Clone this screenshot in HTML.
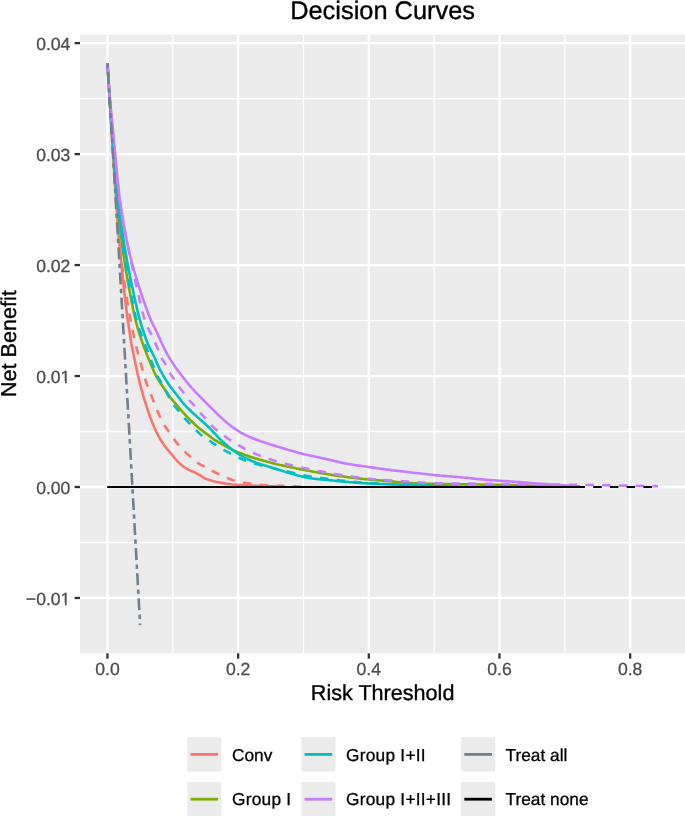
<!DOCTYPE html>
<html>
<head>
<meta charset="utf-8">
<title>Decision Curves</title>
<style>
html, body { margin: 0; padding: 0; background: #ffffff; }
body { width: 685px; height: 816px; overflow: hidden; font-family: "Liberation Sans", sans-serif; }
#chart { width: 685px; height: 816px; will-change: transform; }
svg { display: block; }
</style>
</head>
<body>
<div id="chart">
<svg width="685" height="816" viewBox="0 0 685 816">
<rect x="0" y="0" width="685" height="816" fill="#ffffff"/>
<rect x="80.00" y="34.60" width="605.00" height="618.70" fill="#EBEBEB"/>
<g stroke="#ffffff" stroke-width="1.3">
<line x1="172.79" y1="34.60" x2="172.79" y2="653.30"/>
<line x1="303.47" y1="34.60" x2="303.47" y2="653.30"/>
<line x1="434.15" y1="34.60" x2="434.15" y2="653.30"/>
<line x1="564.83" y1="34.60" x2="564.83" y2="653.30"/>
<line x1="80.00" y1="542.49" x2="685.00" y2="542.49"/>
<line x1="80.00" y1="431.51" x2="685.00" y2="431.51"/>
<line x1="80.00" y1="320.55" x2="685.00" y2="320.55"/>
<line x1="80.00" y1="209.57" x2="685.00" y2="209.57"/>
<line x1="80.00" y1="98.60" x2="685.00" y2="98.60"/>
</g>
<g stroke="#ffffff" stroke-width="2.3">
<line x1="107.45" y1="34.60" x2="107.45" y2="653.30"/>
<line x1="238.13" y1="34.60" x2="238.13" y2="653.30"/>
<line x1="368.81" y1="34.60" x2="368.81" y2="653.30"/>
<line x1="499.49" y1="34.60" x2="499.49" y2="653.30"/>
<line x1="630.17" y1="34.60" x2="630.17" y2="653.30"/>
<line x1="80.00" y1="597.97" x2="685.00" y2="597.97"/>
<line x1="80.00" y1="487.00" x2="685.00" y2="487.00"/>
<line x1="80.00" y1="376.03" x2="685.00" y2="376.03"/>
<line x1="80.00" y1="265.06" x2="685.00" y2="265.06"/>
<line x1="80.00" y1="154.09" x2="685.00" y2="154.09"/>
<line x1="80.00" y1="43.12" x2="685.00" y2="43.12"/>
</g>
<g fill="none" stroke-width="2.60" stroke-linejoin="round" stroke-linecap="butt">
<path d="M107.45,63.32 L107.46,63.43 L107.48,63.75 L107.51,64.25 L107.55,64.91 L107.60,65.71 L107.65,66.61 L107.71,67.61 L107.78,68.66 L107.84,69.76 L107.91,70.87 L107.98,71.98 L108.05,73.05 L108.11,74.07 L108.16,75.00 L108.23,76.01 L108.29,77.03 L108.35,78.05 L108.41,79.09 L108.48,80.13 L108.54,81.18 L108.60,82.25 L108.67,83.32 L108.74,84.41 L108.80,85.50 L108.87,86.61 L108.94,87.73 L109.01,88.86 L109.08,90.00 L109.16,91.32 L109.25,92.65 L109.33,93.97 L109.41,95.30 L109.50,96.65 L109.58,98.01 L109.67,99.39 L109.76,100.80 L109.85,102.23 L109.95,103.70 L110.04,105.21 L110.14,106.76 L110.25,108.35 L110.35,110.00 L110.51,112.45 L110.67,115.04 L110.84,117.77 L111.03,120.60 L111.21,123.51 L111.40,126.48 L111.59,129.50 L111.79,132.54 L111.98,135.58 L112.17,138.59 L112.36,141.56 L112.55,144.47 L112.73,147.29 L112.90,150.00 L113.04,152.28 L113.19,154.52 L113.33,156.72 L113.46,158.90 L113.60,161.06 L113.73,163.19 L113.87,165.31 L114.00,167.41 L114.13,169.51 L114.26,171.60 L114.40,173.69 L114.53,175.78 L114.66,177.89 L114.80,180.00 L114.93,182.06 L115.06,184.07 L115.18,186.06 L115.31,188.03 L115.43,189.99 L115.55,191.95 L115.68,193.92 L115.80,195.91 L115.94,197.93 L116.07,199.99 L116.22,202.10 L116.37,204.26 L116.53,206.49 L116.70,208.80 L116.94,212.00 L117.19,215.32 L117.46,218.76 L117.73,222.29 L118.02,225.90 L118.32,229.58 L118.62,233.32 L118.94,237.10 L119.26,240.92 L119.59,244.75 L119.94,248.59 L120.28,252.42 L120.64,256.23 L121.00,260.00 L121.40,264.08 L121.83,268.34 L122.28,272.76 L122.75,277.26 L123.23,281.82 L123.72,286.37 L124.21,290.87 L124.70,295.28 L125.18,299.54 L125.65,303.61 L126.10,307.44 L126.53,310.98 L126.93,314.18 L127.30,317.00 L127.46,318.19 L127.62,319.29 L127.77,320.31 L127.92,321.27 L128.06,322.18 L128.20,323.04 L128.34,323.87 L128.47,324.67 L128.61,325.47 L128.74,326.27 L128.88,327.08 L129.02,327.92 L129.16,328.79 L129.30,329.70 L129.45,330.72 L129.60,331.74 L129.75,332.78 L129.90,333.82 L130.05,334.87 L130.20,335.93 L130.35,336.99 L130.50,338.05 L130.65,339.11 L130.81,340.17 L130.98,341.23 L131.14,342.29 L131.32,343.35 L131.50,344.40 L131.69,345.45 L131.88,346.50 L132.09,347.54 L132.29,348.58 L132.50,349.62 L132.71,350.66 L132.93,351.70 L133.15,352.75 L133.37,353.79 L133.60,354.84 L133.82,355.90 L134.05,356.96 L134.27,358.03 L134.50,359.10 L134.74,360.25 L134.98,361.40 L135.22,362.57 L135.46,363.74 L135.71,364.92 L135.95,366.11 L136.20,367.29 L136.45,368.48 L136.70,369.66 L136.96,370.84 L137.21,372.02 L137.47,373.19 L137.74,374.35 L138.00,375.50 L138.26,376.60 L138.52,377.70 L138.78,378.79 L139.04,379.87 L139.30,380.96 L139.57,382.04 L139.83,383.11 L140.11,384.19 L140.38,385.26 L140.66,386.33 L140.94,387.40 L141.22,388.46 L141.51,389.53 L141.80,390.60 L142.09,391.66 L142.39,392.72 L142.69,393.77 L142.99,394.82 L143.30,395.88 L143.61,396.93 L143.92,397.97 L144.24,399.02 L144.55,400.07 L144.88,401.12 L145.20,402.16 L145.53,403.21 L145.86,404.25 L146.20,405.30 L146.55,406.37 L146.90,407.45 L147.27,408.56 L147.64,409.67 L148.02,410.78 L148.40,411.90 L148.78,413.00 L149.16,414.09 L149.53,415.16 L149.90,416.20 L150.27,417.22 L150.62,418.19 L150.97,419.12 L151.30,420.00 L151.52,420.58 L151.74,421.15 L151.96,421.69 L152.17,422.22 L152.38,422.74 L152.59,423.24 L152.80,423.73 L153.00,424.21 L153.20,424.68 L153.40,425.15 L153.60,425.61 L153.80,426.07 L154.00,426.54 L154.20,427.00 L154.37,427.41 L154.54,427.80 L154.71,428.19 L154.87,428.57 L155.03,428.94 L155.19,429.32 L155.35,429.69 L155.51,430.06 L155.67,430.43 L155.84,430.81 L156.02,431.19 L156.21,431.59 L156.40,431.99 L156.60,432.40 L156.86,432.93 L157.14,433.47 L157.42,434.03 L157.72,434.60 L158.02,435.18 L158.33,435.76 L158.65,436.35 L158.97,436.94 L159.30,437.53 L159.64,438.11 L159.97,438.70 L160.31,439.27 L160.66,439.84 L161.00,440.40 L161.34,440.95 L161.69,441.49 L162.04,442.02 L162.40,442.55 L162.76,443.08 L163.12,443.60 L163.49,444.13 L163.86,444.65 L164.24,445.17 L164.62,445.69 L165.01,446.22 L165.40,446.74 L165.80,447.27 L166.20,447.80 L166.65,448.38 L167.11,448.97 L167.59,449.56 L168.07,450.16 L168.57,450.76 L169.07,451.36 L169.57,451.96 L170.07,452.55 L170.57,453.14 L171.06,453.72 L171.54,454.29 L172.01,454.84 L172.46,455.38 L172.90,455.90 L173.23,456.30 L173.56,456.70 L173.87,457.08 L174.17,457.46 L174.47,457.83 L174.77,458.19 L175.06,458.55 L175.35,458.91 L175.65,459.26 L175.94,459.61 L176.25,459.96 L176.56,460.30 L176.87,460.65 L177.20,461.00 L177.55,461.36 L177.90,461.72 L178.25,462.08 L178.61,462.44 L178.97,462.79 L179.34,463.14 L179.71,463.49 L180.08,463.84 L180.46,464.18 L180.84,464.52 L181.23,464.85 L181.61,465.17 L182.01,465.49 L182.40,465.80 L182.79,466.10 L183.19,466.39 L183.59,466.68 L183.99,466.96 L184.40,467.23 L184.81,467.50 L185.23,467.76 L185.65,468.02 L186.07,468.28 L186.49,468.53 L186.91,468.78 L187.34,469.02 L187.77,469.26 L188.20,469.50 L188.64,469.73 L189.08,469.96 L189.53,470.17 L189.98,470.39 L190.43,470.59 L190.89,470.80 L191.35,471.00 L191.81,471.20 L192.27,471.39 L192.72,471.59 L193.17,471.79 L193.62,471.99 L194.06,472.19 L194.50,472.40 L194.91,472.60 L195.31,472.79 L195.72,472.99 L196.12,473.18 L196.52,473.38 L196.92,473.58 L197.32,473.77 L197.71,473.97 L198.10,474.17 L198.49,474.37 L198.87,474.57 L199.25,474.78 L199.63,474.99 L200.00,475.20 L200.34,475.40 L200.67,475.62 L200.99,475.83 L201.30,476.05 L201.61,476.27 L201.91,476.49 L202.22,476.72 L202.53,476.94 L202.84,477.16 L203.17,477.38 L203.50,477.59 L203.85,477.80 L204.21,478.00 L204.60,478.20 L205.13,478.45 L205.68,478.69 L206.25,478.93 L206.85,479.16 L207.46,479.39 L208.09,479.61 L208.73,479.82 L209.38,480.03 L210.04,480.24 L210.71,480.44 L211.38,480.64 L212.05,480.83 L212.73,481.02 L213.40,481.20 L214.15,481.39 L214.91,481.58 L215.69,481.77 L216.48,481.94 L217.27,482.11 L218.08,482.28 L218.89,482.44 L219.69,482.59 L220.50,482.74 L221.30,482.88 L222.09,483.02 L222.88,483.15 L223.65,483.28 L224.40,483.40 L225.05,483.50 L225.69,483.60 L226.32,483.70 L226.94,483.78 L227.56,483.87 L228.17,483.95 L228.78,484.02 L229.38,484.10 L230.00,484.17 L230.62,484.24 L231.24,484.30 L231.88,484.37 L232.53,484.43 L233.20,484.50 L233.98,484.57 L234.74,484.64 L235.51,484.71 L236.28,484.77 L237.05,484.83 L237.84,484.88 L238.64,484.94 L239.46,484.99 L240.30,485.04 L241.17,485.09 L242.07,485.14 L243.00,485.19 L243.98,485.25 L245.00,485.30 L246.91,485.39 L249.20,485.49 L251.79,485.59 L254.59,485.70 L257.53,485.80 L260.51,485.90 L263.46,486.00 L266.28,486.10 L268.90,486.18 L271.23,486.25 L273.19,486.31 L274.70,486.36 L275.66,486.39 L276.00,486.40" stroke="#F8766D"/>
<path d="M107.45,63.32 L107.46,63.43 L107.48,63.75 L107.51,64.25 L107.55,64.91 L107.60,65.71 L107.65,66.61 L107.71,67.61 L107.78,68.66 L107.84,69.76 L107.91,70.87 L107.98,71.98 L108.05,73.05 L108.11,74.07 L108.16,75.00 L108.23,76.01 L108.29,77.03 L108.35,78.05 L108.41,79.09 L108.48,80.13 L108.54,81.18 L108.60,82.25 L108.67,83.32 L108.74,84.41 L108.80,85.50 L108.87,86.61 L108.94,87.73 L109.01,88.86 L109.08,90.00 L109.16,91.32 L109.25,92.65 L109.33,93.97 L109.41,95.30 L109.50,96.65 L109.58,98.01 L109.67,99.39 L109.76,100.80 L109.85,102.23 L109.95,103.70 L110.04,105.21 L110.14,106.76 L110.25,108.35 L110.35,110.00 L110.51,112.45 L110.67,115.04 L110.84,117.77 L111.03,120.60 L111.21,123.51 L111.40,126.48 L111.59,129.50 L111.79,132.54 L111.98,135.58 L112.17,138.59 L112.36,141.56 L112.55,144.47 L112.73,147.29 L112.90,150.00 L113.04,152.28 L113.19,154.52 L113.32,156.72 L113.46,158.90 L113.59,161.06 L113.73,163.19 L113.86,165.31 L113.99,167.41 L114.12,169.51 L114.26,171.60 L114.39,173.69 L114.52,175.78 L114.66,177.89 L114.80,180.00 L114.94,182.06 L115.07,184.07 L115.20,186.06 L115.33,188.03 L115.46,189.99 L115.59,191.95 L115.72,193.92 L115.85,195.91 L115.99,197.93 L116.14,199.99 L116.29,202.10 L116.45,204.26 L116.62,206.49 L116.80,208.80 L117.05,212.00 L117.30,215.32 L117.56,218.75 L117.83,222.28 L118.10,225.89 L118.39,229.56 L118.69,233.30 L119.00,237.08 L119.33,240.90 L119.68,244.73 L120.05,248.57 L120.44,252.40 L120.86,256.22 L121.30,260.00 L121.81,264.12 L122.38,268.42 L122.99,272.86 L123.64,277.38 L124.32,281.95 L125.01,286.52 L125.72,291.05 L126.42,295.50 L127.12,299.82 L127.80,303.97 L128.46,307.91 L129.09,311.59 L129.67,314.96 L130.20,318.00 L130.46,319.45 L130.71,320.81 L130.94,322.10 L131.17,323.31 L131.40,324.46 L131.61,325.57 L131.83,326.63 L132.04,327.68 L132.26,328.70 L132.47,329.73 L132.69,330.76 L132.92,331.81 L133.16,332.88 L133.40,334.00 L133.65,335.14 L133.91,336.29 L134.17,337.43 L134.43,338.58 L134.69,339.72 L134.96,340.86 L135.23,342.01 L135.51,343.15 L135.78,344.29 L136.06,345.43 L136.34,346.58 L136.63,347.72 L136.91,348.86 L137.20,350.00 L137.49,351.14 L137.79,352.29 L138.08,353.43 L138.38,354.57 L138.68,355.71 L138.99,356.85 L139.29,357.99 L139.60,359.13 L139.91,360.27 L140.23,361.42 L140.54,362.56 L140.86,363.70 L141.18,364.85 L141.50,366.00 L141.83,367.17 L142.15,368.35 L142.48,369.53 L142.80,370.72 L143.13,371.90 L143.46,373.09 L143.79,374.27 L144.13,375.46 L144.47,376.64 L144.82,377.82 L145.17,379.00 L145.54,380.17 L145.91,381.34 L146.30,382.50 L146.69,383.65 L147.10,384.79 L147.52,385.93 L147.94,387.06 L148.37,388.19 L148.81,389.32 L149.25,390.44 L149.70,391.57 L150.15,392.69 L150.60,393.81 L151.06,394.93 L151.51,396.05 L151.95,397.18 L152.40,398.30 L152.84,399.43 L153.29,400.57 L153.73,401.73 L154.18,402.88 L154.62,404.04 L155.07,405.19 L155.52,406.35 L155.97,407.49 L156.42,408.62 L156.87,409.74 L157.33,410.84 L157.78,411.92 L158.24,412.97 L158.70,414.00 L159.09,414.86 L159.49,415.71 L159.88,416.55 L160.28,417.39 L160.68,418.21 L161.08,419.02 L161.47,419.81 L161.88,420.60 L162.28,421.37 L162.68,422.13 L163.08,422.87 L163.49,423.59 L163.89,424.31 L164.30,425.00 L164.64,425.56 L164.98,426.10 L165.32,426.63 L165.67,427.15 L166.01,427.65 L166.36,428.14 L166.71,428.63 L167.05,429.11 L167.40,429.59 L167.74,430.07 L168.09,430.55 L168.43,431.03 L168.76,431.51 L169.10,432.00 L169.42,432.48 L169.73,432.95 L170.04,433.43 L170.35,433.90 L170.66,434.37 L170.96,434.84 L171.27,435.31 L171.57,435.78 L171.88,436.25 L172.19,436.72 L172.51,437.19 L172.83,437.66 L173.16,438.13 L173.50,438.60 L173.87,439.10 L174.24,439.61 L174.61,440.11 L175.00,440.62 L175.39,441.13 L175.78,441.64 L176.17,442.15 L176.57,442.66 L176.97,443.16 L177.38,443.66 L177.78,444.16 L178.19,444.64 L178.59,445.13 L179.00,445.60 L179.39,446.05 L179.78,446.49 L180.17,446.92 L180.55,447.35 L180.95,447.77 L181.34,448.20 L181.73,448.61 L182.13,449.03 L182.53,449.44 L182.94,449.85 L183.35,450.27 L183.76,450.68 L184.18,451.09 L184.60,451.50 L185.05,451.93 L185.51,452.36 L185.97,452.79 L186.44,453.22 L186.92,453.64 L187.40,454.07 L187.88,454.49 L188.36,454.91 L188.84,455.33 L189.32,455.75 L189.80,456.16 L190.27,456.58 L190.74,456.99 L191.20,457.40 L191.62,457.78 L192.04,458.17 L192.44,458.56 L192.84,458.95 L193.24,459.33 L193.63,459.72 L194.03,460.10 L194.43,460.47 L194.83,460.85 L195.24,461.21 L195.66,461.57 L196.10,461.92 L196.54,462.27 L197.00,462.60 L197.51,462.94 L198.04,463.28 L198.59,463.60 L199.15,463.91 L199.72,464.21 L200.30,464.51 L200.89,464.80 L201.48,465.09 L202.06,465.37 L202.65,465.65 L203.23,465.94 L203.80,466.22 L204.35,466.51 L204.90,466.80 L205.39,467.07 L205.87,467.34 L206.34,467.60 L206.81,467.87 L207.27,468.13 L207.73,468.39 L208.19,468.66 L208.65,468.92 L209.11,469.18 L209.58,469.44 L210.05,469.71 L210.52,469.97 L211.01,470.23 L211.50,470.50 L212.05,470.79 L212.61,471.09 L213.18,471.39 L213.76,471.69 L214.34,471.99 L214.92,472.29 L215.51,472.59 L216.10,472.88 L216.69,473.18 L217.28,473.47 L217.87,473.76 L218.45,474.05 L219.03,474.33 L219.60,474.60 L220.14,474.85 L220.67,475.10 L221.19,475.35 L221.72,475.60 L222.24,475.84 L222.76,476.08 L223.29,476.31 L223.81,476.55 L224.33,476.78 L224.86,477.01 L225.39,477.23 L225.92,477.46 L226.46,477.68 L227.00,477.90 L227.56,478.13 L228.13,478.35 L228.70,478.57 L229.27,478.80 L229.85,479.02 L230.43,479.23 L231.01,479.45 L231.59,479.66 L232.18,479.86 L232.76,480.06 L233.35,480.26 L233.93,480.45 L234.52,480.63 L235.10,480.80 L235.67,480.96 L236.24,481.11 L236.80,481.26 L237.36,481.40 L237.92,481.53 L238.48,481.66 L239.04,481.79 L239.61,481.91 L240.18,482.03 L240.77,482.14 L241.36,482.26 L241.96,482.37 L242.57,482.48 L243.20,482.60 L243.97,482.74 L244.75,482.87 L245.55,483.01 L246.36,483.14 L247.19,483.27 L248.02,483.40 L248.87,483.52 L249.72,483.65 L250.58,483.76 L251.46,483.88 L252.33,483.99 L253.22,484.10 L254.11,484.20 L255.00,484.30 L256.01,484.41 L257.05,484.51 L258.09,484.60 L259.15,484.69 L260.22,484.78 L261.30,484.86 L262.38,484.93 L263.47,485.01 L264.57,485.08 L265.66,485.15 L266.75,485.21 L267.84,485.28 L268.92,485.34 L270.00,485.40 L271.07,485.46 L272.14,485.51 L273.20,485.56 L274.27,485.61 L275.34,485.65 L276.40,485.69 L277.47,485.73 L278.54,485.77 L279.61,485.81 L280.68,485.84 L281.75,485.88 L282.83,485.92 L283.91,485.96 L285.00,486.00 L286.20,486.05 L287.54,486.10 L288.97,486.15 L290.47,486.21 L291.99,486.26 L293.50,486.32 L294.97,486.38 L296.35,486.43 L297.63,486.48 L298.75,486.52 L299.68,486.55 L300.39,486.58 L300.84,486.59 L301.00,486.60" stroke="#F8766D" stroke-dasharray="8.432 8.332" stroke-dashoffset="0.215"/>
<path d="M107.45,63.32 L107.46,63.43 L107.48,63.75 L107.51,64.25 L107.55,64.91 L107.60,65.71 L107.65,66.61 L107.71,67.61 L107.78,68.66 L107.84,69.76 L107.91,70.87 L107.98,71.98 L108.05,73.05 L108.11,74.07 L108.16,75.00 L108.23,76.01 L108.29,77.03 L108.35,78.05 L108.41,79.09 L108.47,80.13 L108.54,81.18 L108.60,82.25 L108.67,83.32 L108.73,84.41 L108.80,85.50 L108.87,86.61 L108.94,87.73 L109.01,88.86 L109.08,90.00 L109.16,91.32 L109.25,92.65 L109.33,93.97 L109.42,95.31 L109.51,96.65 L109.60,98.01 L109.69,99.39 L109.78,100.80 L109.88,102.23 L109.97,103.70 L110.08,105.21 L110.18,106.76 L110.29,108.35 L110.40,110.00 L110.57,112.45 L110.75,115.04 L110.93,117.77 L111.13,120.60 L111.33,123.51 L111.54,126.48 L111.75,129.50 L111.96,132.54 L112.18,135.58 L112.39,138.59 L112.60,141.56 L112.81,144.47 L113.01,147.29 L113.20,150.00 L113.36,152.28 L113.52,154.52 L113.67,156.73 L113.82,158.90 L113.97,161.06 L114.12,163.19 L114.27,165.31 L114.42,167.41 L114.57,169.51 L114.73,171.60 L114.89,173.69 L115.05,175.79 L115.22,177.89 L115.40,180.00 L115.58,182.06 L115.75,184.08 L115.93,186.06 L116.11,188.03 L116.29,190.00 L116.48,191.96 L116.67,193.93 L116.86,195.92 L117.06,197.94 L117.27,199.99 L117.49,202.10 L117.71,204.26 L117.95,206.49 L118.20,208.80 L118.54,212.00 L118.90,215.33 L119.26,218.77 L119.64,222.31 L120.03,225.93 L120.44,229.62 L120.86,233.36 L121.29,237.15 L121.74,240.97 L122.22,244.80 L122.71,248.63 L123.22,252.45 L123.75,256.25 L124.30,260.00 L124.92,264.01 L125.58,268.16 L126.29,272.43 L127.02,276.77 L127.79,281.15 L128.57,285.53 L129.36,289.87 L130.15,294.13 L130.94,298.28 L131.72,302.27 L132.49,306.08 L133.22,309.66 L133.93,312.98 L134.60,316.00 L134.96,317.56 L135.31,319.03 L135.64,320.43 L135.98,321.76 L136.30,323.03 L136.63,324.25 L136.95,325.44 L137.27,326.59 L137.59,327.72 L137.92,328.84 L138.25,329.96 L138.59,331.09 L138.94,332.23 L139.30,333.40 L139.64,334.49 L139.99,335.58 L140.33,336.65 L140.68,337.71 L141.04,338.76 L141.40,339.81 L141.76,340.85 L142.13,341.88 L142.49,342.92 L142.87,343.95 L143.25,344.98 L143.63,346.02 L144.01,347.06 L144.40,348.10 L144.80,349.16 L145.21,350.22 L145.62,351.29 L146.04,352.36 L146.46,353.43 L146.89,354.50 L147.32,355.57 L147.75,356.63 L148.18,357.68 L148.61,358.73 L149.04,359.77 L149.46,360.79 L149.88,361.80 L150.30,362.80 L150.67,363.69 L151.04,364.57 L151.41,365.46 L151.77,366.34 L152.14,367.22 L152.50,368.08 L152.87,368.94 L153.23,369.79 L153.59,370.62 L153.95,371.43 L154.32,372.23 L154.68,373.01 L155.04,373.77 L155.40,374.50 L155.69,375.06 L155.97,375.61 L156.25,376.13 L156.52,376.64 L156.80,377.14 L157.07,377.63 L157.35,378.12 L157.63,378.60 L157.91,379.07 L158.20,379.55 L158.49,380.03 L158.79,380.51 L159.09,381.00 L159.40,381.50 L159.74,382.04 L160.09,382.59 L160.45,383.14 L160.81,383.68 L161.18,384.23 L161.56,384.78 L161.93,385.33 L162.31,385.88 L162.70,386.44 L163.08,386.99 L163.46,387.54 L163.84,388.09 L164.22,388.65 L164.60,389.20 L164.98,389.76 L165.35,390.32 L165.73,390.89 L166.10,391.45 L166.47,392.01 L166.84,392.58 L167.21,393.14 L167.59,393.71 L167.97,394.27 L168.36,394.84 L168.75,395.40 L169.16,395.97 L169.57,396.53 L170.00,397.10 L170.48,397.72 L170.97,398.34 L171.48,398.96 L172.00,399.59 L172.53,400.21 L173.06,400.83 L173.60,401.46 L174.15,402.08 L174.69,402.70 L175.24,403.33 L175.79,403.95 L176.33,404.57 L176.87,405.18 L177.40,405.80 L177.92,406.41 L178.44,407.02 L178.96,407.62 L179.48,408.23 L180.00,408.84 L180.51,409.45 L181.03,410.05 L181.55,410.65 L182.07,411.25 L182.59,411.85 L183.12,412.44 L183.64,413.03 L184.17,413.62 L184.70,414.20 L185.22,414.76 L185.74,415.32 L186.26,415.88 L186.79,416.44 L187.32,416.99 L187.84,417.54 L188.37,418.08 L188.90,418.63 L189.43,419.17 L189.96,419.70 L190.50,420.23 L191.03,420.76 L191.57,421.28 L192.10,421.80 L192.62,422.30 L193.13,422.79 L193.65,423.28 L194.16,423.76 L194.68,424.24 L195.20,424.72 L195.72,425.20 L196.24,425.67 L196.76,426.13 L197.29,426.60 L197.81,427.05 L198.34,427.51 L198.87,427.96 L199.40,428.40 L199.92,428.82 L200.44,429.24 L200.97,429.65 L201.49,430.06 L202.02,430.46 L202.55,430.86 L203.08,431.25 L203.62,431.65 L204.15,432.04 L204.68,432.43 L205.21,432.82 L205.74,433.21 L206.27,433.60 L206.80,434.00 L207.32,434.40 L207.85,434.80 L208.38,435.21 L208.90,435.62 L209.43,436.03 L209.96,436.44 L210.49,436.85 L211.01,437.26 L211.53,437.65 L212.05,438.04 L212.57,438.43 L213.09,438.80 L213.59,439.16 L214.10,439.50 L214.54,439.79 L214.97,440.07 L215.41,440.34 L215.84,440.60 L216.27,440.86 L216.70,441.11 L217.13,441.36 L217.55,441.60 L217.97,441.84 L218.39,442.07 L218.80,442.31 L219.21,442.54 L219.61,442.77 L220.00,443.00 L220.33,443.20 L220.65,443.39 L220.96,443.57 L221.26,443.75 L221.55,443.93 L221.85,444.11 L222.14,444.29 L222.44,444.47 L222.74,444.64 L223.05,444.83 L223.36,445.01 L223.69,445.20 L224.04,445.40 L224.40,445.60 L224.93,445.90 L225.50,446.21 L226.08,446.53 L226.69,446.86 L227.32,447.20 L227.96,447.55 L228.62,447.90 L229.28,448.25 L229.94,448.59 L230.61,448.93 L231.27,449.27 L231.92,449.59 L232.57,449.90 L233.20,450.20 L233.78,450.47 L234.36,450.72 L234.94,450.98 L235.52,451.22 L236.09,451.46 L236.66,451.69 L237.24,451.92 L237.81,452.15 L238.39,452.38 L238.97,452.60 L239.54,452.82 L240.13,453.05 L240.71,453.27 L241.30,453.50 L241.91,453.74 L242.52,453.97 L243.13,454.21 L243.74,454.44 L244.35,454.67 L244.97,454.90 L245.58,455.14 L246.20,455.36 L246.83,455.59 L247.45,455.82 L248.08,456.04 L248.72,456.26 L249.36,456.48 L250.00,456.70 L250.68,456.93 L251.36,457.15 L252.04,457.36 L252.72,457.57 L253.41,457.78 L254.09,457.99 L254.79,458.20 L255.49,458.41 L256.20,458.61 L256.93,458.82 L257.67,459.04 L258.43,459.25 L259.20,459.47 L260.00,459.70 L261.05,460.00 L262.13,460.31 L263.24,460.62 L264.37,460.94 L265.53,461.27 L266.70,461.59 L267.90,461.92 L269.11,462.25 L270.34,462.59 L271.59,462.92 L272.85,463.24 L274.12,463.57 L275.41,463.89 L276.70,464.20 L278.24,464.56 L279.82,464.93 L281.43,465.29 L283.06,465.64 L284.72,466.00 L286.40,466.35 L288.09,466.71 L289.80,467.06 L291.51,467.40 L293.22,467.75 L294.93,468.09 L296.63,468.43 L298.32,468.77 L300.00,469.10 L301.67,469.43 L303.34,469.76 L305.01,470.09 L306.68,470.42 L308.35,470.74 L310.02,471.07 L311.69,471.39 L313.36,471.70 L315.03,472.01 L316.71,472.32 L318.38,472.63 L320.05,472.92 L321.73,473.21 L323.40,473.50 L325.07,473.78 L326.74,474.05 L328.41,474.32 L330.08,474.59 L331.75,474.85 L333.42,475.11 L335.09,475.36 L336.76,475.61 L338.44,475.85 L340.11,476.09 L341.78,476.33 L343.45,476.55 L345.13,476.78 L346.80,477.00 L348.47,477.22 L350.16,477.43 L351.85,477.63 L353.54,477.83 L355.23,478.03 L356.93,478.22 L358.62,478.41 L360.30,478.60 L361.98,478.77 L363.65,478.95 L365.31,479.12 L366.96,479.28 L368.59,479.44 L370.20,479.60 L371.67,479.74 L373.15,479.87 L374.62,479.99 L376.09,480.11 L377.55,480.22 L379.00,480.33 L380.44,480.43 L381.87,480.54 L383.28,480.64 L384.67,480.75 L386.04,480.85 L387.39,480.97 L388.71,481.08 L390.00,481.20 L391.03,481.30 L392.00,481.41 L392.95,481.52 L393.86,481.63 L394.76,481.75 L395.64,481.86 L396.52,481.97 L397.41,482.09 L398.32,482.20 L399.25,482.31 L400.22,482.41 L401.22,482.51 L402.28,482.61 L403.40,482.70 L405.16,482.83 L406.99,482.94 L408.88,483.05 L410.84,483.15 L412.87,483.24 L414.95,483.33 L417.10,483.41 L419.30,483.48 L421.56,483.56 L423.88,483.63 L426.26,483.70 L428.69,483.76 L431.17,483.83 L433.70,483.90 L437.55,483.99 L441.69,484.08 L446.07,484.16 L450.65,484.23 L455.37,484.29 L460.19,484.35 L465.07,484.41 L469.96,484.46 L474.81,484.51 L479.57,484.57 L484.19,484.62 L488.64,484.68 L492.86,484.74 L496.80,484.80 L499.51,484.85 L502.16,484.89 L504.74,484.94 L507.25,484.98 L509.72,485.03 L512.13,485.07 L514.49,485.12 L516.80,485.17 L519.08,485.22 L521.32,485.27 L523.53,485.32 L525.71,485.38 L527.86,485.44 L530.00,485.50 L531.81,485.56 L533.76,485.63 L535.81,485.71 L537.90,485.79 L539.99,485.87 L542.05,485.96 L544.03,486.04 L545.89,486.12 L547.57,486.20 L549.05,486.27 L550.28,486.32 L551.21,486.36 L551.79,486.39 L552.00,486.40" stroke="#7CAE00"/>
<path d="M107.45,63.32 L107.46,63.43 L107.48,63.75 L107.51,64.25 L107.55,64.91 L107.60,65.71 L107.65,66.61 L107.71,67.61 L107.78,68.66 L107.84,69.76 L107.91,70.87 L107.98,71.98 L108.05,73.05 L108.11,74.07 L108.16,75.00 L108.23,76.01 L108.29,77.03 L108.35,78.05 L108.41,79.09 L108.47,80.13 L108.54,81.18 L108.60,82.25 L108.66,83.32 L108.73,84.41 L108.80,85.50 L108.86,86.61 L108.93,87.73 L109.01,88.86 L109.08,90.00 L109.17,91.32 L109.25,92.65 L109.34,93.97 L109.43,95.31 L109.52,96.65 L109.61,98.01 L109.71,99.39 L109.80,100.80 L109.90,102.23 L110.01,103.70 L110.11,105.21 L110.22,106.76 L110.33,108.35 L110.45,110.00 L110.62,112.45 L110.81,115.04 L111.01,117.77 L111.21,120.60 L111.42,123.51 L111.63,126.48 L111.86,129.50 L112.08,132.54 L112.30,135.58 L112.53,138.59 L112.75,141.56 L112.97,144.47 L113.19,147.29 L113.40,150.00 L113.58,152.28 L113.75,154.52 L113.93,156.73 L114.10,158.91 L114.27,161.06 L114.43,163.19 L114.61,165.31 L114.78,167.42 L114.95,169.51 L115.13,171.60 L115.31,173.69 L115.50,175.79 L115.70,177.89 L115.90,180.00 L116.10,182.06 L116.30,184.08 L116.50,186.07 L116.69,188.04 L116.90,190.00 L117.10,191.96 L117.31,193.93 L117.53,195.92 L117.76,197.94 L118.00,200.00 L118.25,202.10 L118.52,204.26 L118.80,206.49 L119.10,208.80 L119.52,212.00 L119.97,215.33 L120.44,218.77 L120.93,222.31 L121.45,225.93 L121.98,229.62 L122.53,233.37 L123.11,237.15 L123.70,240.97 L124.30,244.80 L124.93,248.63 L125.57,252.45 L126.23,256.25 L126.90,260.00 L127.64,264.02 L128.44,268.22 L129.29,272.54 L130.17,276.95 L131.07,281.40 L131.99,285.85 L132.92,290.24 L133.85,294.55 L134.76,298.72 L135.65,302.71 L136.51,306.48 L137.33,309.98 L138.09,313.17 L138.80,316.00 L139.13,317.27 L139.44,318.45 L139.74,319.56 L140.04,320.60 L140.32,321.58 L140.60,322.52 L140.87,323.42 L141.15,324.30 L141.42,325.17 L141.70,326.04 L141.99,326.91 L142.28,327.81 L142.58,328.73 L142.90,329.70 L143.24,330.74 L143.58,331.79 L143.92,332.84 L144.27,333.90 L144.62,334.96 L144.98,336.02 L145.34,337.08 L145.71,338.14 L146.09,339.20 L146.47,340.25 L146.86,341.30 L147.26,342.34 L147.68,343.38 L148.10,344.40 L148.53,345.40 L148.99,346.40 L149.46,347.40 L149.94,348.40 L150.44,349.39 L150.94,350.38 L151.45,351.36 L151.95,352.33 L152.45,353.30 L152.95,354.26 L153.44,355.21 L153.91,356.15 L154.36,357.08 L154.80,358.00 L155.16,358.79 L155.51,359.57 L155.85,360.35 L156.17,361.12 L156.49,361.88 L156.81,362.63 L157.12,363.38 L157.43,364.13 L157.74,364.86 L158.06,365.60 L158.38,366.33 L158.71,367.06 L159.05,367.78 L159.40,368.50 L159.75,369.19 L160.10,369.88 L160.46,370.56 L160.82,371.23 L161.18,371.90 L161.55,372.57 L161.92,373.23 L162.30,373.89 L162.67,374.55 L163.06,375.21 L163.44,375.86 L163.82,376.51 L164.21,377.15 L164.60,377.80 L164.98,378.43 L165.37,379.06 L165.75,379.68 L166.13,380.29 L166.52,380.91 L166.91,381.52 L167.30,382.13 L167.70,382.74 L168.10,383.35 L168.51,383.95 L168.92,384.56 L169.34,385.17 L169.77,385.79 L170.20,386.40 L170.67,387.06 L171.15,387.71 L171.64,388.37 L172.14,389.03 L172.64,389.68 L173.15,390.34 L173.66,391.00 L174.18,391.65 L174.70,392.31 L175.22,392.97 L175.74,393.63 L176.26,394.29 L176.78,394.94 L177.30,395.60 L177.82,396.27 L178.34,396.94 L178.86,397.62 L179.38,398.30 L179.90,398.99 L180.43,399.67 L180.95,400.35 L181.48,401.02 L182.01,401.69 L182.54,402.36 L183.08,403.01 L183.61,403.65 L184.15,404.28 L184.70,404.90 L185.21,405.46 L185.73,406.02 L186.25,406.56 L186.78,407.10 L187.30,407.63 L187.83,408.15 L188.36,408.67 L188.90,409.18 L189.43,409.69 L189.96,410.19 L190.50,410.69 L191.03,411.20 L191.57,411.70 L192.10,412.20 L192.62,412.69 L193.14,413.17 L193.66,413.65 L194.18,414.12 L194.70,414.59 L195.22,415.06 L195.74,415.53 L196.26,416.00 L196.78,416.47 L197.31,416.93 L197.83,417.40 L198.35,417.86 L198.88,418.33 L199.40,418.80 L199.93,419.27 L200.46,419.74 L200.99,420.20 L201.52,420.67 L202.05,421.13 L202.58,421.60 L203.11,422.06 L203.64,422.53 L204.17,423.00 L204.70,423.47 L205.23,423.95 L205.76,424.42 L206.28,424.91 L206.80,425.40 L207.33,425.91 L207.87,426.43 L208.40,426.95 L208.93,427.48 L209.46,428.01 L209.99,428.55 L210.52,429.09 L211.05,429.62 L211.57,430.16 L212.09,430.70 L212.60,431.23 L213.11,431.76 L213.61,432.28 L214.10,432.80 L214.55,433.27 L214.99,433.75 L215.43,434.23 L215.87,434.72 L216.31,435.20 L216.74,435.68 L217.16,436.16 L217.58,436.63 L218.00,437.09 L218.41,437.54 L218.82,437.98 L219.22,438.41 L219.61,438.81 L220.00,439.20 L220.29,439.48 L220.57,439.75 L220.85,440.01 L221.12,440.26 L221.39,440.50 L221.66,440.74 L221.92,440.97 L222.19,441.20 L222.45,441.43 L222.71,441.65 L222.98,441.88 L223.25,442.12 L223.52,442.35 L223.80,442.60 L224.10,442.87 L224.40,443.14 L224.70,443.41 L225.00,443.68 L225.31,443.96 L225.61,444.23 L225.92,444.51 L226.23,444.79 L226.54,445.06 L226.85,445.33 L227.16,445.61 L227.47,445.87 L227.79,446.14 L228.10,446.40 L228.41,446.65 L228.71,446.90 L229.01,447.14 L229.32,447.38 L229.62,447.62 L229.92,447.86 L230.23,448.10 L230.54,448.33 L230.85,448.57 L231.17,448.81 L231.49,449.05 L231.82,449.30 L232.15,449.55 L232.50,449.80 L232.93,450.11 L233.37,450.44 L233.82,450.77 L234.29,451.10 L234.76,451.44 L235.24,451.78 L235.72,452.12 L236.21,452.47 L236.70,452.80 L237.19,453.14 L237.67,453.47 L238.15,453.79 L238.63,454.10 L239.10,454.40 L239.53,454.67 L239.95,454.93 L240.38,455.20 L240.81,455.45 L241.23,455.71 L241.66,455.95 L242.08,456.20 L242.51,456.44 L242.93,456.68 L243.35,456.91 L243.76,457.14 L244.18,457.36 L244.59,457.58 L245.00,457.80 L245.36,457.99 L245.72,458.17 L246.06,458.35 L246.41,458.52 L246.75,458.69 L247.09,458.86 L247.43,459.02 L247.77,459.19 L248.12,459.35 L248.47,459.52 L248.83,459.68 L249.21,459.85 L249.60,460.02 L250.00,460.20 L250.55,460.44 L251.12,460.69 L251.71,460.94 L252.32,461.20 L252.95,461.46 L253.58,461.72 L254.23,461.98 L254.88,462.24 L255.54,462.50 L256.20,462.75 L256.86,463.00 L257.51,463.24 L258.16,463.48 L258.80,463.70 L259.42,463.91 L260.05,464.11 L260.67,464.31 L261.30,464.50 L261.93,464.68 L262.56,464.86 L263.18,465.04 L263.81,465.21 L264.44,465.39 L265.07,465.56 L265.70,465.74 L266.34,465.92 L266.97,466.11 L267.60,466.30 L268.24,466.50 L268.86,466.69 L269.47,466.89 L270.07,467.08 L270.67,467.27 L271.27,467.47 L271.88,467.67 L272.50,467.87 L273.13,468.07 L273.79,468.28 L274.47,468.50 L275.18,468.73 L275.92,468.96 L276.70,469.20 L278.05,469.62 L279.53,470.08 L281.12,470.57 L282.79,471.09 L284.54,471.63 L286.33,472.19 L288.15,472.74 L289.98,473.29 L291.80,473.84 L293.59,474.36 L295.32,474.85 L296.98,475.31 L298.55,475.73 L300.00,476.10 L300.96,476.33 L301.88,476.55 L302.78,476.75 L303.65,476.94 L304.49,477.12 L305.32,477.29 L306.14,477.45 L306.94,477.60 L307.74,477.75 L308.54,477.88 L309.34,478.02 L310.15,478.15 L310.97,478.27 L311.80,478.40 L312.62,478.52 L313.42,478.62 L314.21,478.72 L315.00,478.81 L315.78,478.89 L316.56,478.97 L317.35,479.04 L318.15,479.12 L318.96,479.19 L319.79,479.26 L320.65,479.34 L321.53,479.42 L322.45,479.51 L323.40,479.60 L324.82,479.74 L326.32,479.90 L327.88,480.06 L329.49,480.22 L331.16,480.39 L332.86,480.57 L334.59,480.74 L336.34,480.92 L338.11,481.09 L339.88,481.27 L341.64,481.43 L343.38,481.60 L345.11,481.75 L346.80,481.90 L348.48,482.04 L350.16,482.18 L351.85,482.32 L353.54,482.46 L355.23,482.59 L356.93,482.72 L358.62,482.85 L360.31,482.97 L361.98,483.09 L363.65,483.20 L365.31,483.31 L366.96,483.41 L368.59,483.51 L370.20,483.60 L371.65,483.67 L373.05,483.74 L374.41,483.80 L375.75,483.85 L377.07,483.90 L378.39,483.94 L379.72,483.98 L381.06,484.02 L382.42,484.06 L383.83,484.10 L385.27,484.14 L386.78,484.19 L388.35,484.24 L390.00,484.30 L392.63,484.40 L395.46,484.51 L398.46,484.63 L401.61,484.75 L404.87,484.88 L408.20,485.02 L411.58,485.16 L414.97,485.29 L418.33,485.42 L421.64,485.55 L424.87,485.68 L427.98,485.80 L430.93,485.90 L433.70,486.00 L435.77,486.07 L437.97,486.14 L440.25,486.21 L442.58,486.28 L444.89,486.34 L447.16,486.41 L449.33,486.47 L451.36,486.52 L453.20,486.57 L454.80,486.62 L456.13,486.65 L457.14,486.68 L457.78,486.69 L458.00,486.70" stroke="#00BFC4"/>
<path d="M107.45,63.32 L107.46,63.43 L107.48,63.75 L107.51,64.25 L107.55,64.91 L107.60,65.71 L107.65,66.61 L107.71,67.61 L107.78,68.66 L107.84,69.76 L107.91,70.87 L107.98,71.98 L108.05,73.05 L108.11,74.07 L108.16,75.00 L108.23,76.01 L108.29,77.03 L108.35,78.05 L108.41,79.09 L108.47,80.13 L108.54,81.18 L108.60,82.25 L108.67,83.32 L108.73,84.41 L108.80,85.50 L108.87,86.61 L108.94,87.73 L109.01,88.86 L109.08,90.00 L109.16,91.32 L109.25,92.65 L109.33,93.97 L109.42,95.31 L109.51,96.65 L109.60,98.01 L109.69,99.39 L109.78,100.80 L109.88,102.23 L109.97,103.70 L110.08,105.21 L110.18,106.76 L110.29,108.35 L110.40,110.00 L110.57,112.45 L110.74,115.04 L110.93,117.77 L111.12,120.60 L111.33,123.51 L111.53,126.48 L111.74,129.50 L111.95,132.54 L112.17,135.58 L112.38,138.59 L112.59,141.56 L112.80,144.47 L113.00,147.29 L113.20,150.00 L113.37,152.28 L113.53,154.52 L113.69,156.73 L113.84,158.90 L114.00,161.06 L114.15,163.19 L114.31,165.31 L114.47,167.41 L114.63,169.51 L114.79,171.60 L114.96,173.69 L115.13,175.79 L115.31,177.89 L115.50,180.00 L115.69,182.06 L115.88,184.08 L116.07,186.07 L116.26,188.04 L116.45,190.00 L116.65,191.96 L116.85,193.93 L117.06,195.92 L117.28,197.94 L117.50,199.99 L117.74,202.10 L117.98,204.26 L118.23,206.49 L118.50,208.80 L118.87,212.00 L119.25,215.33 L119.64,218.77 L120.05,222.31 L120.47,225.93 L120.90,229.62 L121.35,233.36 L121.82,237.15 L122.30,240.97 L122.80,244.80 L123.32,248.63 L123.86,252.45 L124.42,256.25 L125.00,260.00 L125.65,264.02 L126.35,268.23 L127.09,272.56 L127.86,276.99 L128.67,281.45 L129.48,285.91 L130.31,290.32 L131.14,294.64 L131.95,298.82 L132.75,302.81 L133.53,306.57 L134.26,310.05 L134.96,313.21 L135.60,316.00 L135.89,317.22 L136.17,318.36 L136.44,319.42 L136.71,320.42 L136.96,321.37 L137.21,322.27 L137.46,323.14 L137.71,323.98 L137.96,324.81 L138.22,325.63 L138.48,326.45 L138.74,327.27 L139.02,328.12 L139.30,329.00 L139.58,329.85 L139.86,330.69 L140.15,331.52 L140.44,332.34 L140.74,333.16 L141.04,333.98 L141.34,334.79 L141.65,335.60 L141.95,336.41 L142.26,337.22 L142.57,338.04 L142.88,338.85 L143.19,339.67 L143.50,340.50 L143.82,341.35 L144.14,342.20 L144.47,343.06 L144.80,343.92 L145.13,344.78 L145.46,345.64 L145.79,346.50 L146.12,347.36 L146.45,348.22 L146.78,349.08 L147.12,349.94 L147.45,350.80 L147.77,351.65 L148.10,352.50 L148.42,353.33 L148.73,354.15 L149.05,354.98 L149.36,355.80 L149.67,356.62 L149.98,357.44 L150.29,358.26 L150.60,359.08 L150.92,359.89 L151.23,360.71 L151.54,361.53 L151.86,362.35 L152.18,363.18 L152.50,364.00 L152.83,364.85 L153.15,365.71 L153.48,366.58 L153.80,367.45 L154.12,368.33 L154.45,369.21 L154.78,370.08 L155.11,370.95 L155.45,371.81 L155.78,372.65 L156.13,373.47 L156.48,374.27 L156.84,375.05 L157.20,375.80 L157.51,376.40 L157.83,376.98 L158.15,377.54 L158.48,378.08 L158.82,378.61 L159.15,379.14 L159.49,379.65 L159.83,380.16 L160.17,380.67 L160.50,381.18 L160.84,381.70 L161.16,382.22 L161.49,382.75 L161.80,383.30 L162.12,383.87 L162.43,384.45 L162.73,385.03 L163.04,385.62 L163.34,386.21 L163.64,386.81 L163.93,387.40 L164.23,388.00 L164.52,388.59 L164.81,389.18 L165.11,389.77 L165.40,390.35 L165.70,390.93 L166.00,391.50 L166.29,392.04 L166.57,392.57 L166.86,393.11 L167.14,393.64 L167.43,394.17 L167.72,394.70 L168.00,395.22 L168.29,395.74 L168.57,396.26 L168.86,396.78 L169.14,397.29 L169.43,397.80 L169.72,398.30 L170.00,398.80 L170.26,399.26 L170.52,399.72 L170.77,400.17 L171.02,400.61 L171.26,401.06 L171.51,401.50 L171.76,401.94 L172.01,402.37 L172.27,402.81 L172.54,403.24 L172.81,403.68 L173.10,404.12 L173.39,404.56 L173.70,405.00 L174.07,405.50 L174.45,406.00 L174.85,406.50 L175.27,407.01 L175.69,407.51 L176.13,408.02 L176.57,408.52 L177.01,409.02 L177.45,409.52 L177.90,410.02 L178.34,410.52 L178.77,411.02 L179.19,411.51 L179.60,412.00 L179.98,412.46 L180.35,412.92 L180.71,413.37 L181.07,413.83 L181.43,414.28 L181.78,414.73 L182.14,415.18 L182.49,415.63 L182.85,416.08 L183.21,416.53 L183.57,416.97 L183.94,417.42 L184.32,417.86 L184.70,418.30 L185.10,418.75 L185.51,419.20 L185.93,419.65 L186.35,420.10 L186.78,420.55 L187.21,420.99 L187.64,421.44 L188.07,421.88 L188.50,422.32 L188.93,422.76 L189.35,423.20 L189.78,423.63 L190.19,424.07 L190.60,424.50 L190.97,424.90 L191.34,425.30 L191.70,425.70 L192.06,426.10 L192.41,426.49 L192.76,426.88 L193.11,427.27 L193.47,427.66 L193.82,428.05 L194.18,428.44 L194.55,428.83 L194.92,429.22 L195.31,429.61 L195.70,430.00 L196.14,430.43 L196.59,430.86 L197.05,431.29 L197.51,431.72 L197.99,432.16 L198.47,432.59 L198.95,433.02 L199.44,433.45 L199.93,433.88 L200.42,434.29 L200.91,434.71 L201.41,435.11 L201.90,435.51 L202.40,435.90 L202.88,436.27 L203.36,436.63 L203.85,436.98 L204.34,437.32 L204.84,437.66 L205.33,437.99 L205.83,438.33 L206.33,438.65 L206.82,438.98 L207.32,439.30 L207.82,439.62 L208.31,439.95 L208.81,440.27 L209.30,440.60 L209.78,440.92 L210.26,441.24 L210.73,441.55 L211.21,441.87 L211.68,442.18 L212.16,442.49 L212.63,442.81 L213.11,443.12 L213.59,443.43 L214.07,443.74 L214.55,444.05 L215.03,444.37 L215.51,444.68 L216.00,445.00 L216.51,445.33 L217.02,445.67 L217.54,446.01 L218.05,446.35 L218.57,446.69 L219.09,447.04 L219.61,447.38 L220.13,447.72 L220.65,448.06 L221.18,448.40 L221.70,448.73 L222.23,449.06 L222.77,449.38 L223.30,449.70 L223.84,450.01 L224.38,450.32 L224.93,450.62 L225.48,450.92 L226.03,451.22 L226.58,451.52 L227.13,451.81 L227.69,452.10 L228.24,452.38 L228.80,452.67 L229.35,452.95 L229.90,453.24 L230.45,453.52 L231.00,453.80 L231.53,454.07 L232.07,454.35 L232.60,454.62 L233.13,454.90 L233.66,455.17 L234.20,455.44 L234.73,455.71 L235.26,455.97 L235.79,456.24 L236.31,456.50 L236.84,456.75 L237.36,457.01 L237.88,457.26 L238.40,457.50 L238.87,457.72 L239.34,457.94 L239.79,458.16 L240.24,458.37 L240.68,458.57 L241.12,458.78 L241.57,458.98 L242.02,459.18 L242.48,459.38 L242.95,459.58 L243.43,459.78 L243.93,459.99 L244.46,460.19 L245.00,460.40 L245.78,460.69 L246.60,460.98 L247.44,461.28 L248.31,461.57 L249.20,461.87 L250.12,462.17 L251.06,462.46 L252.01,462.76 L252.99,463.06 L253.97,463.35 L254.97,463.64 L255.97,463.93 L256.98,464.22 L258.00,464.50 L259.22,464.83 L260.45,465.15 L261.70,465.46 L262.97,465.77 L264.26,466.08 L265.57,466.38 L266.89,466.68 L268.24,466.98 L269.60,467.29 L270.98,467.60 L272.38,467.91 L273.80,468.23 L275.24,468.56 L276.70,468.90 L278.54,469.33 L280.45,469.79 L282.43,470.27 L284.45,470.76 L286.51,471.26 L288.59,471.76 L290.69,472.27 L292.79,472.77 L294.87,473.26 L296.93,473.73 L298.96,474.19 L300.94,474.62 L302.86,475.03 L304.70,475.40 L306.14,475.68 L307.54,475.94 L308.91,476.19 L310.24,476.42 L311.56,476.64 L312.85,476.85 L314.14,477.06 L315.42,477.25 L316.71,477.45 L318.01,477.64 L319.32,477.82 L320.65,478.01 L322.01,478.20 L323.40,478.40 L324.99,478.62 L326.60,478.84 L328.24,479.05 L329.89,479.27 L331.56,479.48 L333.24,479.69 L334.93,479.89 L336.63,480.09 L338.33,480.29 L340.03,480.48 L341.73,480.67 L343.43,480.85 L345.12,481.03 L346.80,481.20 L348.46,481.36 L350.10,481.52 L351.74,481.68 L353.36,481.82 L354.99,481.97 L356.61,482.10 L358.24,482.24 L359.88,482.37 L361.54,482.50 L363.21,482.62 L364.91,482.74 L366.64,482.86 L368.40,482.98 L370.20,483.10 L372.40,483.24 L374.65,483.37 L376.96,483.50 L379.31,483.62 L381.69,483.74 L384.10,483.85 L386.53,483.97 L388.97,484.08 L391.42,484.18 L393.85,484.29 L396.28,484.39 L398.69,484.50 L401.06,484.60 L403.40,484.70 L405.61,484.80 L407.83,484.89 L410.04,484.99 L412.25,485.08 L414.46,485.17 L416.66,485.26 L418.84,485.35 L421.02,485.43 L423.18,485.52 L425.33,485.60 L427.45,485.68 L429.56,485.75 L431.64,485.83 L433.70,485.90 L435.63,485.96 L437.74,486.03 L439.96,486.10 L442.25,486.17 L444.57,486.23 L446.85,486.30 L449.05,486.36 L451.13,486.42 L453.02,486.47 L454.68,486.51 L456.06,486.55 L457.10,486.58 L457.77,486.59 L458.00,486.60" stroke="#00BFC4" stroke-dasharray="8.481 8.380" stroke-dashoffset="2.346"/>
<path d="M107.45,63.32 L107.46,63.43 L107.48,63.75 L107.51,64.25 L107.55,64.91 L107.60,65.71 L107.65,66.61 L107.71,67.61 L107.78,68.66 L107.84,69.76 L107.91,70.87 L107.98,71.98 L108.05,73.05 L108.11,74.07 L108.16,75.00 L108.22,76.01 L108.28,77.03 L108.34,78.05 L108.40,79.09 L108.45,80.13 L108.51,81.19 L108.57,82.25 L108.63,83.32 L108.70,84.41 L108.76,85.50 L108.84,86.61 L108.91,87.73 L108.99,88.86 L109.08,90.00 L109.19,91.32 L109.30,92.65 L109.42,93.97 L109.54,95.31 L109.67,96.65 L109.80,98.01 L109.94,99.39 L110.08,100.80 L110.23,102.23 L110.38,103.70 L110.53,105.21 L110.68,106.76 L110.84,108.35 L111.00,110.00 L111.23,112.45 L111.48,115.04 L111.74,117.77 L112.01,120.60 L112.29,123.51 L112.57,126.48 L112.86,129.50 L113.15,132.54 L113.44,135.58 L113.72,138.59 L114.00,141.56 L114.28,144.47 L114.54,147.29 L114.80,150.00 L115.01,152.28 L115.22,154.52 L115.41,156.73 L115.61,158.90 L115.80,161.06 L115.99,163.19 L116.17,165.31 L116.36,167.42 L116.55,169.51 L116.75,171.60 L116.95,173.69 L117.16,175.79 L117.37,177.89 L117.60,180.00 L117.82,182.06 L118.04,184.08 L118.26,186.07 L118.47,188.04 L118.69,190.00 L118.91,191.97 L119.14,193.94 L119.38,195.93 L119.64,197.95 L119.91,200.01 L120.20,202.11 L120.51,204.27 L120.84,206.50 L121.20,208.80 L121.72,212.01 L122.26,215.34 L122.83,218.78 L123.42,222.32 L124.05,225.94 L124.71,229.63 L125.40,233.38 L126.12,237.17 L126.87,240.98 L127.67,244.81 L128.49,248.64 L129.36,252.46 L130.26,256.25 L131.20,260.00 L132.29,264.09 L133.47,268.36 L134.74,272.76 L136.07,277.24 L137.46,281.76 L138.88,286.28 L140.32,290.75 L141.76,295.13 L143.20,299.37 L144.60,303.43 L145.96,307.27 L147.25,310.84 L148.47,314.10 L149.60,317.00 L150.15,318.35 L150.68,319.61 L151.20,320.78 L151.71,321.89 L152.21,322.93 L152.70,323.93 L153.18,324.89 L153.66,325.82 L154.13,326.74 L154.60,327.65 L155.07,328.57 L155.54,329.52 L156.02,330.49 L156.50,331.50 L156.98,332.54 L157.46,333.59 L157.93,334.64 L158.40,335.70 L158.88,336.76 L159.35,337.82 L159.81,338.88 L160.28,339.93 L160.75,340.98 L161.22,342.01 L161.69,343.03 L162.16,344.04 L162.63,345.03 L163.10,346.00 L163.52,346.85 L163.93,347.68 L164.35,348.50 L164.76,349.31 L165.17,350.12 L165.58,350.91 L166.00,351.70 L166.41,352.48 L166.83,353.25 L167.26,354.03 L167.68,354.80 L168.12,355.56 L168.55,356.33 L169.00,357.10 L169.45,357.86 L169.90,358.61 L170.36,359.37 L170.82,360.12 L171.28,360.87 L171.75,361.61 L172.23,362.36 L172.70,363.09 L173.18,363.83 L173.66,364.55 L174.15,365.27 L174.63,365.99 L175.12,366.70 L175.60,367.40 L176.06,368.06 L176.52,368.71 L176.99,369.35 L177.46,369.99 L177.93,370.63 L178.40,371.26 L178.87,371.88 L179.35,372.50 L179.82,373.12 L180.30,373.74 L180.77,374.35 L181.25,374.97 L181.72,375.58 L182.20,376.20 L182.67,376.80 L183.14,377.41 L183.60,378.01 L184.07,378.62 L184.54,379.22 L185.01,379.82 L185.48,380.42 L185.95,381.01 L186.43,381.60 L186.90,382.19 L187.37,382.77 L187.85,383.35 L188.32,383.93 L188.80,384.50 L189.26,385.04 L189.71,385.58 L190.17,386.11 L190.62,386.63 L191.08,387.15 L191.53,387.67 L191.99,388.18 L192.45,388.70 L192.91,389.21 L193.38,389.73 L193.85,390.24 L194.33,390.76 L194.81,391.28 L195.30,391.80 L195.83,392.36 L196.37,392.92 L196.92,393.49 L197.47,394.06 L198.03,394.62 L198.59,395.19 L199.16,395.76 L199.73,396.33 L200.30,396.89 L200.86,397.46 L201.43,398.02 L201.99,398.58 L202.55,399.14 L203.10,399.70 L203.63,400.24 L204.17,400.78 L204.70,401.33 L205.24,401.87 L205.77,402.42 L206.31,402.96 L206.84,403.50 L207.37,404.04 L207.89,404.57 L208.41,405.10 L208.92,405.61 L209.42,406.12 L209.92,406.62 L210.40,407.10 L210.80,407.50 L211.19,407.88 L211.58,408.27 L211.96,408.64 L212.34,409.01 L212.71,409.37 L213.08,409.73 L213.45,410.09 L213.81,410.45 L214.17,410.80 L214.53,411.15 L214.89,411.50 L215.24,411.85 L215.60,412.20 L215.93,412.52 L216.25,412.85 L216.56,413.16 L216.87,413.48 L217.18,413.80 L217.49,414.11 L217.80,414.42 L218.11,414.74 L218.41,415.05 L218.73,415.36 L219.04,415.67 L219.35,415.98 L219.67,416.29 L220.00,416.60 L220.34,416.92 L220.68,417.24 L221.03,417.56 L221.37,417.88 L221.71,418.20 L222.06,418.51 L222.41,418.83 L222.77,419.15 L223.13,419.47 L223.49,419.79 L223.86,420.11 L224.23,420.44 L224.61,420.77 L225.00,421.10 L225.46,421.49 L225.92,421.89 L226.40,422.29 L226.88,422.70 L227.36,423.11 L227.86,423.53 L228.35,423.94 L228.86,424.36 L229.37,424.77 L229.89,425.19 L230.41,425.60 L230.93,426.00 L231.47,426.40 L232.00,426.80 L232.58,427.22 L233.16,427.63 L233.75,428.05 L234.34,428.46 L234.94,428.87 L235.55,429.27 L236.16,429.68 L236.78,430.08 L237.40,430.47 L238.03,430.87 L238.67,431.26 L239.31,431.64 L239.95,432.02 L240.60,432.40 L241.29,432.79 L242.00,433.18 L242.71,433.57 L243.44,433.96 L244.17,434.34 L244.91,434.72 L245.65,435.09 L246.39,435.45 L247.13,435.81 L247.87,436.17 L248.61,436.51 L249.35,436.85 L250.08,437.18 L250.80,437.50 L251.46,437.79 L252.10,438.06 L252.74,438.32 L253.37,438.57 L253.99,438.82 L254.61,439.06 L255.24,439.30 L255.87,439.53 L256.52,439.76 L257.17,440.00 L257.85,440.24 L258.54,440.49 L259.26,440.74 L260.00,441.00 L261.03,441.36 L262.10,441.72 L263.19,442.10 L264.32,442.47 L265.47,442.85 L266.65,443.24 L267.86,443.63 L269.08,444.02 L270.32,444.41 L271.57,444.81 L272.84,445.20 L274.12,445.60 L275.41,446.00 L276.70,446.40 L278.24,446.87 L279.82,447.36 L281.43,447.85 L283.06,448.35 L284.72,448.86 L286.40,449.36 L288.09,449.87 L289.79,450.37 L291.50,450.87 L293.21,451.36 L294.92,451.84 L296.62,452.31 L298.32,452.76 L300.00,453.20 L301.66,453.62 L303.33,454.02 L305.00,454.42 L306.67,454.80 L308.34,455.17 L310.01,455.53 L311.69,455.89 L313.36,456.25 L315.03,456.60 L316.71,456.95 L318.38,457.31 L320.06,457.67 L321.73,458.03 L323.40,458.40 L325.07,458.78 L326.74,459.17 L328.41,459.56 L330.08,459.96 L331.75,460.36 L333.42,460.76 L335.09,461.16 L336.76,461.55 L338.43,461.93 L340.10,462.31 L341.78,462.68 L343.45,463.04 L345.12,463.38 L346.80,463.70 L348.47,464.01 L350.15,464.30 L351.84,464.57 L353.53,464.84 L355.22,465.10 L356.92,465.35 L358.61,465.59 L360.30,465.83 L361.98,466.06 L363.65,466.29 L365.31,466.51 L366.96,466.74 L368.59,466.97 L370.20,467.20 L371.67,467.41 L373.15,467.63 L374.62,467.85 L376.09,468.06 L377.55,468.27 L379.00,468.48 L380.44,468.69 L381.87,468.90 L383.28,469.10 L384.67,469.29 L386.04,469.48 L387.39,469.66 L388.71,469.83 L390.00,470.00 L391.02,470.13 L392.00,470.25 L392.94,470.36 L393.86,470.46 L394.76,470.56 L395.64,470.66 L396.52,470.75 L397.42,470.85 L398.32,470.95 L399.25,471.04 L400.22,471.15 L401.23,471.26 L402.28,471.37 L403.40,471.50 L405.19,471.71 L407.10,471.93 L409.11,472.17 L411.20,472.42 L413.37,472.68 L415.59,472.95 L417.86,473.22 L420.15,473.49 L422.46,473.76 L424.77,474.03 L427.06,474.29 L429.32,474.54 L431.54,474.78 L433.70,475.00 L435.74,475.20 L437.79,475.39 L439.84,475.57 L441.88,475.75 L443.92,475.92 L445.95,476.09 L447.98,476.25 L450.00,476.41 L452.00,476.57 L453.99,476.73 L455.97,476.89 L457.93,477.06 L459.88,477.23 L461.80,477.40 L463.53,477.56 L465.24,477.73 L466.94,477.90 L468.61,478.07 L470.28,478.24 L471.94,478.41 L473.58,478.59 L475.22,478.76 L476.86,478.93 L478.50,479.09 L480.14,479.25 L481.79,479.41 L483.44,479.56 L485.10,479.70 L486.76,479.83 L488.41,479.96 L490.05,480.08 L491.68,480.20 L493.31,480.31 L494.94,480.41 L496.58,480.52 L498.22,480.62 L499.88,480.73 L501.56,480.83 L503.26,480.94 L504.97,481.05 L506.72,481.17 L508.50,481.30 L510.61,481.45 L512.78,481.62 L514.99,481.78 L517.23,481.95 L519.50,482.13 L521.80,482.31 L524.11,482.49 L526.42,482.67 L528.74,482.85 L531.04,483.02 L533.33,483.20 L535.59,483.37 L537.81,483.54 L540.00,483.70 L542.02,483.85 L544.05,484.00 L546.10,484.15 L548.15,484.30 L550.20,484.44 L552.23,484.59 L554.24,484.74 L556.22,484.88 L558.16,485.01 L560.06,485.14 L561.90,485.27 L563.67,485.39 L565.38,485.50 L567.00,485.60 L568.13,485.67 L569.33,485.74 L570.56,485.81 L571.81,485.88 L573.05,485.94 L574.26,486.01 L575.42,486.07 L576.49,486.12 L577.47,486.17 L578.32,486.22 L579.02,486.25 L579.55,486.28 L579.88,486.29 L580.00,486.30" stroke="#C77CFF"/>
<path d="M107.45,63.32 L107.46,63.43 L107.48,63.75 L107.51,64.25 L107.55,64.91 L107.60,65.71 L107.65,66.61 L107.71,67.61 L107.78,68.66 L107.84,69.76 L107.91,70.87 L107.98,71.98 L108.05,73.05 L108.11,74.07 L108.16,75.00 L108.22,76.01 L108.28,77.03 L108.34,78.05 L108.40,79.09 L108.46,80.13 L108.52,81.19 L108.58,82.25 L108.64,83.32 L108.70,84.41 L108.77,85.50 L108.84,86.61 L108.92,87.73 L108.99,88.86 L109.08,90.00 L109.18,91.32 L109.29,92.65 L109.40,93.97 L109.52,95.31 L109.64,96.65 L109.77,98.01 L109.90,99.39 L110.03,100.80 L110.17,102.23 L110.31,103.70 L110.45,105.21 L110.60,106.76 L110.75,108.35 L110.90,110.00 L111.12,112.45 L111.36,115.04 L111.61,117.77 L111.88,120.60 L112.14,123.51 L112.42,126.48 L112.70,129.50 L112.98,132.54 L113.26,135.58 L113.54,138.59 L113.82,141.56 L114.09,144.47 L114.35,147.29 L114.60,150.00 L114.81,152.28 L115.01,154.52 L115.21,156.73 L115.40,158.90 L115.60,161.06 L115.79,163.19 L115.98,165.31 L116.17,167.41 L116.36,169.51 L116.55,171.60 L116.76,173.69 L116.96,175.79 L117.18,177.89 L117.40,180.00 L117.62,182.06 L117.83,184.08 L118.04,186.07 L118.25,188.04 L118.46,190.00 L118.67,191.97 L118.90,193.94 L119.13,195.93 L119.37,197.95 L119.64,200.01 L119.92,202.11 L120.22,204.27 L120.55,206.50 L120.90,208.80 L121.42,212.01 L121.98,215.34 L122.59,218.78 L123.23,222.32 L123.90,225.94 L124.61,229.62 L125.34,233.37 L126.09,237.15 L126.85,240.97 L127.63,244.80 L128.42,248.63 L129.22,252.45 L130.01,256.24 L130.80,260.00 L131.65,264.03 L132.55,268.25 L133.48,272.61 L134.43,277.07 L135.41,281.57 L136.39,286.07 L137.38,290.51 L138.36,294.85 L139.32,299.04 L140.26,303.03 L141.17,306.77 L142.03,310.21 L142.84,313.30 L143.60,316.00 L143.93,317.11 L144.24,318.14 L144.54,319.11 L144.83,320.02 L145.11,320.88 L145.39,321.70 L145.67,322.48 L145.95,323.23 L146.22,323.95 L146.50,324.67 L146.79,325.37 L147.08,326.07 L147.38,326.78 L147.70,327.50 L147.98,328.11 L148.26,328.70 L148.55,329.27 L148.85,329.84 L149.15,330.39 L149.46,330.93 L149.76,331.47 L150.07,332.00 L150.37,332.53 L150.67,333.06 L150.96,333.59 L151.25,334.12 L151.53,334.66 L151.80,335.20 L152.05,335.72 L152.29,336.24 L152.53,336.76 L152.76,337.28 L152.99,337.80 L153.21,338.32 L153.43,338.84 L153.65,339.36 L153.87,339.88 L154.09,340.40 L154.32,340.92 L154.54,341.45 L154.77,341.97 L155.00,342.50 L155.24,343.05 L155.49,343.60 L155.74,344.15 L155.99,344.71 L156.25,345.27 L156.50,345.82 L156.76,346.38 L157.01,346.94 L157.26,347.50 L157.51,348.06 L157.77,348.62 L158.01,349.18 L158.26,349.74 L158.50,350.30 L158.73,350.86 L158.96,351.42 L159.18,351.98 L159.40,352.55 L159.62,353.11 L159.83,353.68 L160.04,354.24 L160.26,354.80 L160.48,355.36 L160.71,355.92 L160.94,356.47 L161.18,357.02 L161.44,357.56 L161.70,358.10 L161.97,358.62 L162.26,359.13 L162.56,359.64 L162.86,360.14 L163.18,360.64 L163.50,361.13 L163.82,361.62 L164.14,362.11 L164.46,362.60 L164.78,363.09 L165.10,363.59 L165.41,364.09 L165.71,364.59 L166.00,365.10 L166.28,365.62 L166.55,366.14 L166.82,366.66 L167.07,367.19 L167.33,367.72 L167.58,368.26 L167.83,368.79 L168.08,369.32 L168.33,369.86 L168.59,370.39 L168.86,370.92 L169.13,371.45 L169.41,371.98 L169.70,372.50 L170.01,373.04 L170.34,373.57 L170.67,374.11 L171.00,374.64 L171.35,375.18 L171.70,375.71 L172.05,376.24 L172.40,376.77 L172.76,377.30 L173.11,377.82 L173.47,378.34 L173.82,378.86 L174.16,379.38 L174.50,379.90 L174.82,380.39 L175.13,380.88 L175.44,381.36 L175.75,381.84 L176.05,382.32 L176.36,382.80 L176.66,383.28 L176.97,383.75 L177.28,384.23 L177.59,384.70 L177.91,385.18 L178.23,385.65 L178.56,386.13 L178.90,386.60 L179.26,387.10 L179.63,387.59 L180.01,388.09 L180.40,388.58 L180.79,389.07 L181.18,389.57 L181.58,390.06 L181.97,390.55 L182.37,391.04 L182.76,391.54 L183.16,392.03 L183.54,392.52 L183.93,393.01 L184.30,393.50 L184.65,393.97 L185.00,394.45 L185.33,394.92 L185.67,395.40 L186.00,395.88 L186.33,396.35 L186.65,396.83 L186.99,397.30 L187.32,397.77 L187.66,398.24 L188.00,398.71 L188.36,399.18 L188.72,399.64 L189.10,400.10 L189.51,400.58 L189.94,401.06 L190.39,401.54 L190.84,402.02 L191.31,402.49 L191.77,402.96 L192.25,403.43 L192.72,403.90 L193.19,404.37 L193.65,404.83 L194.11,405.30 L194.55,405.77 L194.98,406.23 L195.40,406.70 L195.76,407.12 L196.11,407.55 L196.45,407.97 L196.79,408.39 L197.11,408.81 L197.43,409.23 L197.75,409.65 L198.07,410.07 L198.39,410.49 L198.71,410.91 L199.05,411.33 L199.39,411.75 L199.74,412.18 L200.10,412.60 L200.52,413.07 L200.95,413.54 L201.39,414.01 L201.85,414.48 L202.31,414.95 L202.77,415.43 L203.24,415.90 L203.71,416.38 L204.18,416.85 L204.64,417.32 L205.10,417.79 L205.55,418.26 L205.98,418.73 L206.40,419.20 L206.77,419.63 L207.12,420.05 L207.46,420.48 L207.80,420.90 L208.12,421.33 L208.45,421.75 L208.77,422.18 L209.09,422.60 L209.42,423.02 L209.75,423.44 L210.09,423.86 L210.45,424.27 L210.82,424.69 L211.20,425.10 L211.64,425.55 L212.09,426.00 L212.56,426.45 L213.03,426.89 L213.51,427.33 L214.00,427.77 L214.49,428.21 L215.00,428.65 L215.52,429.09 L216.04,429.53 L216.57,429.97 L217.10,430.41 L217.65,430.85 L218.20,431.30 L218.84,431.82 L219.51,432.34 L220.18,432.86 L220.87,433.39 L221.57,433.92 L222.28,434.45 L223.00,434.99 L223.72,435.51 L224.45,436.04 L225.18,436.56 L225.91,437.08 L226.64,437.60 L227.37,438.10 L228.10,438.60 L228.83,439.09 L229.57,439.59 L230.32,440.08 L231.07,440.57 L231.83,441.06 L232.60,441.55 L233.36,442.02 L234.11,442.50 L234.86,442.96 L235.60,443.41 L236.33,443.85 L237.04,444.28 L237.73,444.70 L238.40,445.10 L238.91,445.40 L239.39,445.69 L239.86,445.97 L240.32,446.23 L240.77,446.49 L241.21,446.75 L241.65,447.00 L242.09,447.24 L242.54,447.49 L243.00,447.74 L243.47,448.00 L243.96,448.26 L244.47,448.52 L245.00,448.80 L245.74,449.18 L246.51,449.57 L247.30,449.98 L248.11,450.39 L248.95,450.80 L249.80,451.22 L250.67,451.64 L251.55,452.07 L252.45,452.49 L253.35,452.90 L254.26,453.32 L255.17,453.72 L256.09,454.12 L257.00,454.50 L258.03,454.92 L259.10,455.34 L260.22,455.76 L261.36,456.18 L262.52,456.59 L263.68,457.00 L264.84,457.41 L265.99,457.80 L267.11,458.18 L268.19,458.54 L269.22,458.89 L270.18,459.22 L271.08,459.52 L271.90,459.80 L272.31,459.94 L272.69,460.08 L273.04,460.20 L273.35,460.31 L273.66,460.42 L273.95,460.52 L274.23,460.62 L274.52,460.72 L274.82,460.82 L275.13,460.92 L275.47,461.03 L275.84,461.15 L276.25,461.27 L276.70,461.40 L277.82,461.72 L279.10,462.07 L280.53,462.45 L282.07,462.86 L283.72,463.28 L285.44,463.72 L287.24,464.17 L289.08,464.62 L290.94,465.08 L292.82,465.53 L294.68,465.97 L296.51,466.40 L298.29,466.81 L300.00,467.20 L301.67,467.57 L303.33,467.93 L305.00,468.29 L306.67,468.64 L308.34,468.99 L310.01,469.33 L311.69,469.66 L313.36,469.99 L315.03,470.32 L316.70,470.64 L318.38,470.96 L320.05,471.27 L321.73,471.59 L323.40,471.90 L325.07,472.21 L326.74,472.52 L328.41,472.82 L330.08,473.12 L331.75,473.42 L333.42,473.71 L335.09,474.00 L336.76,474.29 L338.43,474.57 L340.11,474.85 L341.78,475.12 L343.45,475.39 L345.13,475.65 L346.80,475.90 L348.47,476.15 L350.16,476.39 L351.84,476.63 L353.54,476.87 L355.23,477.10 L356.92,477.32 L358.61,477.54 L360.30,477.76 L361.98,477.97 L363.65,478.17 L365.31,478.36 L366.96,478.55 L368.59,478.73 L370.20,478.90 L371.67,479.05 L373.15,479.19 L374.62,479.33 L376.09,479.46 L377.55,479.58 L379.00,479.70 L380.44,479.81 L381.87,479.92 L383.28,480.02 L384.67,480.13 L386.04,480.22 L387.39,480.32 L388.71,480.41 L390.00,480.50 L391.02,480.57 L392.00,480.64 L392.95,480.70 L393.86,480.75 L394.76,480.80 L395.64,480.86 L396.53,480.91 L397.42,480.96 L398.32,481.01 L399.25,481.06 L400.22,481.11 L401.23,481.17 L402.28,481.23 L403.40,481.30 L405.18,481.41 L407.05,481.54 L409.01,481.68 L411.05,481.82 L413.15,481.97 L415.32,482.13 L417.53,482.28 L419.79,482.44 L422.07,482.59 L424.39,482.73 L426.71,482.87 L429.05,482.99 L431.38,483.10 L433.70,483.20 L436.35,483.29 L439.00,483.36 L441.67,483.42 L444.35,483.47 L447.06,483.51 L449.80,483.54 L452.57,483.56 L455.39,483.58 L458.25,483.59 L461.16,483.61 L464.12,483.62 L467.15,483.64 L470.24,483.67 L473.40,483.70 L477.64,483.75 L482.05,483.80 L486.60,483.84 L491.28,483.89 L496.06,483.94 L500.93,483.99 L505.85,484.04 L510.80,484.09 L515.77,484.14 L520.73,484.19 L525.65,484.24 L530.52,484.29 L535.31,484.35 L540.00,484.40 L544.38,484.45 L548.74,484.51 L553.08,484.56 L557.40,484.61 L561.70,484.67 L565.99,484.72 L570.26,484.78 L574.52,484.83 L578.77,484.89 L583.02,484.95 L587.27,485.01 L591.51,485.07 L595.75,485.14 L600.00,485.20 L604.45,485.27 L609.35,485.35 L614.59,485.44 L620.02,485.53 L625.54,485.62 L631.01,485.72 L636.31,485.81 L641.31,485.90 L645.89,485.98 L649.91,486.05 L653.26,486.11 L655.81,486.16 L657.43,486.19 L658.00,486.20" stroke="#C77CFF" stroke-dasharray="8.443 8.343" stroke-dashoffset="0.746"/>
<path d="M107.45,63.32 L108.10,74.00 L108.76,84.71 L109.41,95.43 L110.06,106.18 L110.72,116.95 L111.37,127.74 L112.02,138.56 L112.68,149.39 L113.33,160.25 L113.98,171.13 L114.64,182.03 L115.29,192.95 L115.94,203.90 L116.60,214.86 L117.25,225.85 L117.90,236.87 L118.56,247.90 L119.21,258.96 L119.86,270.04 L120.52,281.14 L121.17,292.26 L121.82,303.41 L122.48,314.58 L123.13,325.78 L123.78,336.99 L124.44,348.23 L125.09,359.49 L125.75,370.78 L126.40,382.09 L127.05,393.42 L127.71,404.77 L128.36,416.15 L129.01,427.56 L129.67,438.98 L130.32,450.43 L130.97,461.91 L131.63,473.40 L132.28,484.92 L132.93,496.47 L133.59,508.04 L134.24,519.63 L134.89,531.25 L135.55,542.89 L136.20,554.56 L136.85,566.25 L137.51,577.96 L138.16,589.70 L138.81,601.47 L139.47,613.26 L140.12,625.07" stroke="#708090" stroke-dasharray="4.4 4.4 11.9 4.4"/>
<path d="M107.45,487.00 L658.59,487.00" stroke="#000" stroke-width="2.1" stroke-dasharray="8.5 8.25"/>
<path d="M107.45,487.00 L584.43,487.00" stroke="#000" stroke-width="2.1"/>
</g>
<g stroke="#333333" stroke-width="2.3">
<line x1="107.45" y1="653.30" x2="107.45" y2="658.70"/>
<line x1="238.13" y1="653.30" x2="238.13" y2="658.70"/>
<line x1="368.81" y1="653.30" x2="368.81" y2="658.70"/>
<line x1="499.49" y1="653.30" x2="499.49" y2="658.70"/>
<line x1="630.17" y1="653.30" x2="630.17" y2="658.70"/>
<line x1="74.60" y1="597.97" x2="80.00" y2="597.97"/>
<line x1="74.60" y1="487.00" x2="80.00" y2="487.00"/>
<line x1="74.60" y1="376.03" x2="80.00" y2="376.03"/>
<line x1="74.60" y1="265.06" x2="80.00" y2="265.06"/>
<line x1="74.60" y1="154.09" x2="80.00" y2="154.09"/>
<line x1="74.60" y1="43.12" x2="80.00" y2="43.12"/>
</g>
<g font-family="Liberation Sans, sans-serif" text-rendering="geometricPrecision" font-size="17.6" fill="#4D4D4D" stroke="#4D4D4D" stroke-width="0.3">
<text x="107.45" y="675.20" text-anchor="middle">0.0</text>
<text x="238.13" y="675.20" text-anchor="middle">0.2</text>
<text x="368.81" y="675.20" text-anchor="middle">0.4</text>
<text x="499.49" y="675.20" text-anchor="middle">0.6</text>
<text x="630.17" y="675.20" text-anchor="middle">0.8</text>
<text x="70.40" y="605.17" text-anchor="end">−0.01</text>
<text x="70.40" y="494.20" text-anchor="end">0.00</text>
<text x="70.40" y="383.23" text-anchor="end">0.01</text>
<text x="70.40" y="272.26" text-anchor="end">0.02</text>
<text x="70.40" y="161.29" text-anchor="end">0.03</text>
<text x="70.40" y="50.32" text-anchor="end">0.04</text>
</g>
<rect x="61.1" y="602.87" width="3.85" height="3.1" fill="#ffffff"/>
<rect x="66.75" y="602.87" width="3.6" height="3.1" fill="#ffffff"/>
<rect x="61.1" y="380.93" width="3.85" height="3.1" fill="#ffffff"/>
<rect x="66.75" y="380.93" width="3.6" height="3.1" fill="#ffffff"/>
<text x="382.6" y="18.5" text-anchor="middle" font-family="Liberation Sans, sans-serif" text-rendering="geometricPrecision" font-size="25.4" fill="#000" stroke="#000" stroke-width="0.35">Decision Curves</text>
<text x="382.6" y="700.4" text-anchor="middle" font-family="Liberation Sans, sans-serif" text-rendering="geometricPrecision" font-size="21.6" fill="#000" stroke="#000" stroke-width="0.35">Risk Threshold</text>
<text transform="translate(16.0,343.6) rotate(-90)" text-anchor="middle" font-family="Liberation Sans, sans-serif" text-rendering="geometricPrecision" font-size="21.6" fill="#000" stroke="#000" stroke-width="0.35">Net Benefit</text>
<rect x="187.20" y="737.30" width="34.20" height="34.20" fill="#EBEBEB"/>
<line x1="190.50" y1="754.40" x2="218.10" y2="754.40" stroke="#F8766D" stroke-width="2.80"/>
<text x="232.00" y="760.60" font-family="Liberation Sans, sans-serif" text-rendering="geometricPrecision" font-size="17.3" fill="#000" stroke="#000" stroke-width="0.3">Conv</text>
<rect x="187.20" y="782.10" width="34.20" height="34.20" fill="#EBEBEB"/>
<line x1="190.50" y1="799.20" x2="218.10" y2="799.20" stroke="#7CAE00" stroke-width="2.80"/>
<text x="232.00" y="805.40" font-family="Liberation Sans, sans-serif" text-rendering="geometricPrecision" font-size="17.3" fill="#000" stroke="#000" stroke-width="0.3" letter-spacing="0.25">Group I</text>
<rect x="301.30" y="737.30" width="34.20" height="34.20" fill="#EBEBEB"/>
<line x1="304.60" y1="754.40" x2="332.20" y2="754.40" stroke="#00BFC4" stroke-width="2.80"/>
<text x="346.00" y="760.60" font-family="Liberation Sans, sans-serif" text-rendering="geometricPrecision" font-size="17.3" fill="#000" stroke="#000" stroke-width="0.3" letter-spacing="0.25">Group I+II</text>
<rect x="301.30" y="782.10" width="34.20" height="34.20" fill="#EBEBEB"/>
<line x1="304.60" y1="799.20" x2="332.20" y2="799.20" stroke="#C77CFF" stroke-width="2.80"/>
<text x="346.00" y="805.40" font-family="Liberation Sans, sans-serif" text-rendering="geometricPrecision" font-size="17.3" fill="#000" stroke="#000" stroke-width="0.3" letter-spacing="0.25">Group I+II+III</text>
<rect x="461.00" y="737.30" width="34.20" height="34.20" fill="#EBEBEB"/>
<line x1="464.30" y1="754.40" x2="491.90" y2="754.40" stroke="#708090" stroke-width="2.80"/>
<text x="505.60" y="760.60" font-family="Liberation Sans, sans-serif" text-rendering="geometricPrecision" font-size="17.3" fill="#000" stroke="#000" stroke-width="0.3">Treat all</text>
<rect x="461.00" y="782.10" width="34.20" height="34.20" fill="#EBEBEB"/>
<line x1="464.30" y1="799.20" x2="491.90" y2="799.20" stroke="#000000" stroke-width="2.80"/>
<text x="505.60" y="805.40" font-family="Liberation Sans, sans-serif" text-rendering="geometricPrecision" font-size="17.3" fill="#000" stroke="#000" stroke-width="0.3">Treat none</text>
</svg>
</div>
</body>
</html>
